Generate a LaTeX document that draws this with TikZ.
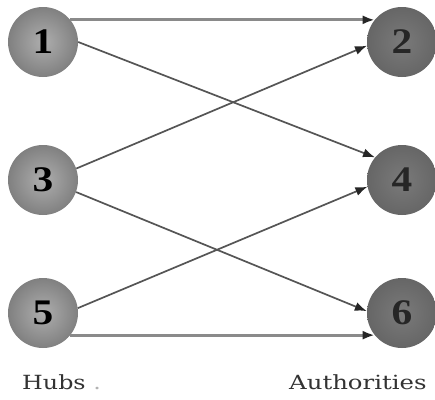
\documentclass[tikz,border=0pt]{standalone}
\usepackage{fontspec}
\setmainfont{Liberation Serif}
\newfontfamily\captionfont{DejaVu Serif}
\usetikzlibrary{arrows.meta}

\tikzset{
  hub/.style={circle, minimum size=70pt, inner sep=0pt, draw=none,
    inner color=hubin, outer color=hubout,
    font=\fontsize{36}{36}\selectfont\bfseries},
  auth/.style={circle, minimum size=70pt, inner sep=0pt, draw=none,
    inner color=authin, outer color=authout, text=black!85,
    font=\fontsize{36}{36}\selectfont\bfseries},
  straight/.style={draw=edgelight, line width=2.8pt,
    -{Latex[length=12pt,width=9pt,color=black!85]}},
  cross/.style={draw=edgedark, line width=1.7pt,
    -{Latex[length=12pt,width=9pt,color=black!85]}},
  caption/.style={anchor=base west, inner sep=0pt,
    font=\captionfont\fontsize{19.5}{20}\selectfont, text=black!80}
}
\definecolor{hubin}{HTML}{AEAEAE}
\definecolor{hubout}{HTML}{808080}
\definecolor{authin}{HTML}{7A7A7A}
\definecolor{authout}{HTML}{666666}
\definecolor{edgelight}{HTML}{8A8A8A}
\definecolor{edgedark}{HTML}{555555}

\begin{document}
\begin{tikzpicture}[x=1pt, y=-1pt]
  \useasboundingbox[fill=white] (0,0) rectangle (435,399);

  % hubs on the left
  \node[hub]  (h1) at (43,42)   {\scalebox{1.15}[1]{1}};
  \node[hub]  (h3) at (43,180)  {\scalebox{1.15}[1]{3}};
  \node[hub]  (h5) at (43,313)  {\scalebox{1.15}[1]{5}};
  % authorities on the right
  \node[auth] (a2) at (402,42)  {\scalebox{1.15}[1]{2}};
  \node[auth] (a4) at (402,180) {\scalebox{1.15}[1]{4}};
  \node[auth] (a6) at (402,313) {\scalebox{1.15}[1]{6}};

  % links
  \draw[straight] (h1.39)  -- (a2.141);
  \draw[straight] (h5.-39) -- (a6.-141);
  \draw[cross] (h1.0)   -- (a4.140);
  \draw[cross] (h3.19)  -- (a2.186);
  \draw[cross] (h3.-20) -- (a6.177);
  \draw[cross] (h5.8)   -- (a4.191);

  % column captions
  \node[caption] (hubs) at (22,389) {\scalebox{1.22}[1]{Hubs \textcolor{black!30}{.}}};
  \node[caption] (auths) at (289,389) {\scalebox{1.25}[1]{Authorities}};
\end{tikzpicture}
\end{document}
